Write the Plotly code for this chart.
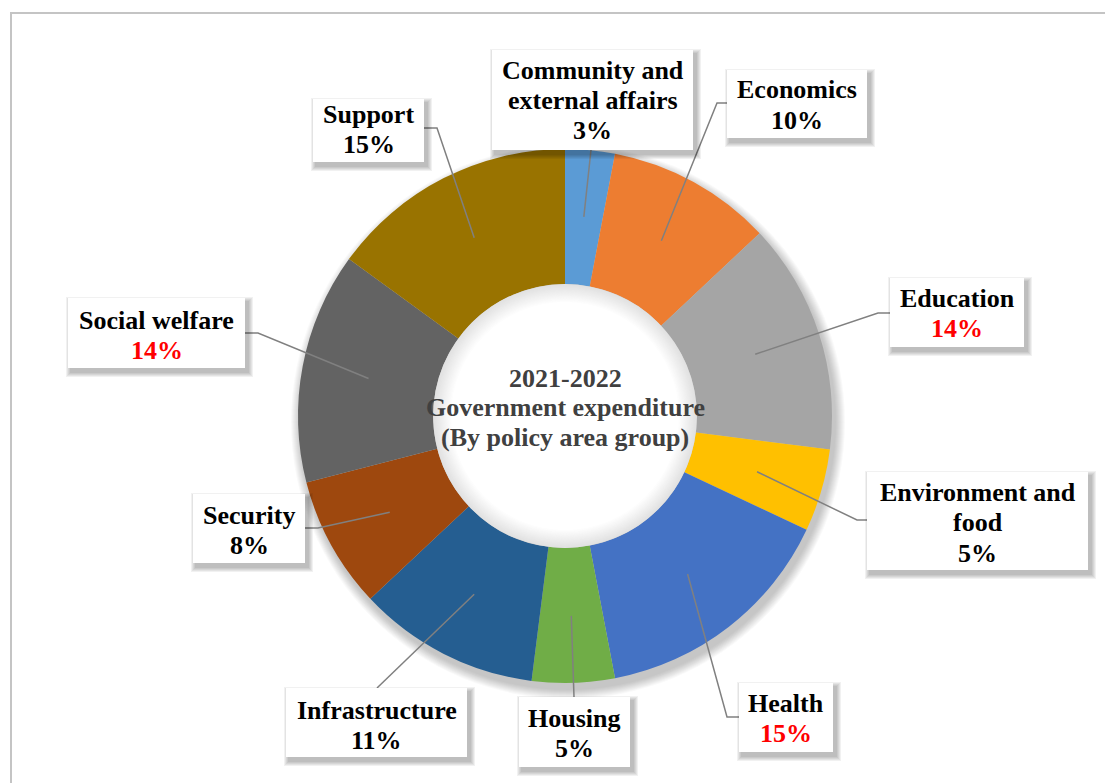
import math
import plotly.graph_objects as go

# ---------------- data ----------------
categories = ["Community and external affairs", "Economics", "Education",
              "Environment and food", "Health", "Housing", "Infrastructure",
              "Security", "Social welfare", "Support"]
values = [3, 10, 14, 5, 15, 5, 11, 8, 14, 15]
label_lines = [["Community and", "external affairs"], ["Economics"], ["Education"],
               ["Environment and", "food"], ["Health"], ["Housing"], ["Infrastructure"],
               ["Security"], ["Social welfare"], ["Support"]]
pct_red = [False, False, True, False, True, False, False, False, True, False]
colors = ["#5B9BD5", "#ED7D31", "#A5A5A5", "#FFC000", "#4472C4", "#70AD47",
          "#255E91", "#9E480E", "#636363", "#997300"]
center_title = ["2021-2022", "Government expenditure", "(By policy area group)"]

# ---------------- layout helpers (pixel positions) ----------------
W, H = 1105, 783
CX, CY, R = 565, 416, 267
HOLE = 0.494
LEAD_R = 200
FONT = "Liberation Serif"
FS = 26
LINE = 30.5

# box: (x0, y0, x1, y1), first line center y, leader start, optional elbow
label_layout = [
    dict(box=(492, 50, 693, 150), y=70, start=(591, 150), elbow=None),
    dict(box=(727, 70, 867, 138), y=90, start=(727, 103), elbow=(717, 103)),
    dict(box=(890, 278, 1024, 347), y=298, start=(890, 313), elbow=(878, 313)),
    dict(box=(867, 472, 1088, 570), y=492, start=(867, 520), elbow=(857, 520)),
    dict(box=(739, 683, 833, 752), y=703, start=(739, 717), elbow=(727, 717)),
    dict(box=(519, 697, 630, 767), y=718, start=(574, 697), elbow=None),
    dict(box=(286, 688, 467, 757), y=710, start=(377, 688), elbow=None),
    dict(box=(193, 494, 305, 563), y=515, start=(305, 528), elbow=(318, 528)),
    dict(box=(68, 298, 245, 368), y=320, start=(245, 333), elbow=(258, 333)),
    dict(box=(313, 99, 424, 162), y=114, start=(424, 128), elbow=(437, 128)),
]


def px(x):
    return x / W


def py(y):
    return 1 - y / H


fig = go.Figure()
fig.add_trace(go.Pie(
    labels=categories, values=values, sort=False, direction="clockwise",
    rotation=0, hole=HOLE, marker=dict(colors=colors, line=dict(width=0)),
    textinfo="none", hoverinfo="label+percent", showlegend=False,
    domain=dict(x=[px(CX - R), px(CX + R)], y=[py(CY + R), py(CY - R)]),
))

shapes = []
annotations = []

# chart border (only top/left visible)
shapes.append(dict(type="rect", xref="paper", yref="paper",
                   x0=px(11), y0=py(13), x1=px(1130), y1=py(810),
                   line=dict(color="#C4C4C4", width=2), fillcolor="rgba(0,0,0,0)",
                   layer="below"))

# soft outer shadow under the donut
for k in range(10, 0, -1):
    r = R + k
    shapes.append(dict(type="circle", xref="paper", yref="paper", layer="below",
                       x0=px(CX + 3 - r), x1=px(CX + 3 + r),
                       y0=py(CY + 6 + r), y1=py(CY + 6 - r),
                       line=dict(width=0), fillcolor="rgba(0,0,0,0.022)"))

# inner shadow inside the hole
hr = R * HOLE
steps = 16
for i in range(steps):
    r = hr - i * 1.2
    t = i / (steps - 1)
    g = int(226 + (255 - 226) * t)
    shapes.append(dict(type="circle", xref="paper", yref="paper", layer="above",
                       x0=px(CX - r), x1=px(CX + r), y0=py(CY + r), y1=py(CY - r),
                       line=dict(width=0), fillcolor=f"rgb({g},{g},{g})"))

# leader lines
total = sum(values)
cum = 0
for v, lay in zip(values, label_layout):
    ang = math.radians((cum + v / 2) / total * 360)
    cum += v
    ex = CX + LEAD_R * math.sin(ang)
    ey = CY - LEAD_R * math.cos(ang)
    pts = [lay["start"]]
    if lay["elbow"]:
        pts.append(lay["elbow"])
    pts.append((ex, ey))
    path = "M " + " L ".join(f"{px(a):.5f},{py(b):.5f}" for a, b in pts)
    shapes.append(dict(type="path", xref="paper", yref="paper", path=path,
                       line=dict(color="#808080", width=1.5), layer="above"))

# label boxes with soft shadows
for lay in label_layout:
    x0, y0, x1, y1 = lay["box"]
    for k in range(5, 0, -1):
        shapes.append(dict(type="rect", xref="paper", yref="paper", layer="above",
                           x0=px(x0 + 3 - k), x1=px(x1 + 3 + k),
                           y0=py(y1 + 4 + k), y1=py(y0 + 4 - k),
                           line=dict(width=0), fillcolor="rgba(0,0,0,0.055)"))
    shapes.append(dict(type="rect", xref="paper", yref="paper", layer="above",
                       x0=px(x0), x1=px(x1), y0=py(y1), y1=py(y0),
                       line=dict(width=0), fillcolor="white"))

# label texts
for lines, v, red, lay in zip(label_lines, values, pct_red, label_layout):
    x0, y0, x1, y1 = lay["box"]
    xc = (x0 + x1) / 2
    all_lines = [(t, "#000000") for t in lines] + [(f"{v}%", "#FF0000" if red else "#000000")]
    for i, (t, col) in enumerate(all_lines):
        annotations.append(dict(xref="paper", yref="paper", x=px(xc), y=py(lay["y"] + i * LINE),
                                text=f"<b>{t}</b>", showarrow=False, xanchor="center",
                                yanchor="middle",
                                font=dict(family=FONT, size=FS, color=col)))

# center title
for i, t in enumerate(center_title):
    annotations.append(dict(xref="paper", yref="paper", x=px(CX), y=py(CY - 38 + i * 30),
                            text=f"<b>{t}</b>", showarrow=False, xanchor="center",
                            yanchor="middle",
                            font=dict(family=FONT, size=FS, color="#404040")))

fig.update_layout(width=W, height=H, margin=dict(l=0, r=0, t=0, b=0),
                  paper_bgcolor="white", plot_bgcolor="white",
                  shapes=shapes, annotations=annotations, showlegend=False)

fig.write_html("out.html")
